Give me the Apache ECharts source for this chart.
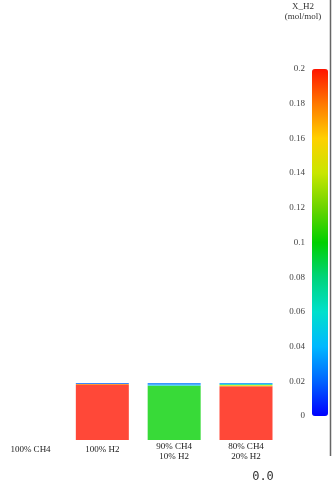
<!DOCTYPE html>
<html>
<head>
<meta charset="utf-8">
<script src="https://cdn.jsdelivr.net/npm/echarts@6/dist/echarts.min.js"></script>
<style>
html, body { margin: 0; padding: 0; background: #fff; }
#chart { width: 334px; height: 486px; }
</style>
</head>
<body>
<div id="chart"></div>
<script>
// cases (x axis)
var categories = [ '100% CH4', '100% H2', '90% CH4\n10% H2', '80% CH4\n20% H2' ];
// height of each layer in % of the square, bottom to top
var coreHeight = [ 0, 96.5, 95, 94.5 ];
var layer1Height = [ 0, 1.8, 2, 1.8 ];
var layer2Height = [ 0, 1.7, 3, 1.8 ];
var layer3Height = [ 0, 0, 0, 1.9 ];
// X_H2 of each layer (mol/mol)
var coreXH2 = [ 0, 1.0, 0.1, 0.2 ];
var layer1XH2 = [ 0, 0.18, 0.05, 0.15 ];
var layer2XH2 = [ 0, 0.02, 0.025, 0.07 ];
var layer3XH2 = [ 0, 0, 0, 0.03 ];
// colour scale
var scaleMin = 0, scaleMax = 0.2, scaleStep = 0.02;
var scaleColors = [ '#0000ff', '#0064ff', '#00b8ff', '#00e0cc', '#00d47a', '#00d000',
		'#6cd400', '#c8e600', '#ffd000', '#ff7800', '#ff1400' ];

var serif = 'Liberation Serif';

var makeLayer = function(heights, values) {
	return heights.map(function(h, i) {
		return [ i, h, Math.min(values[i], scaleMax) ];
	});
};

var layers = [ [ coreHeight, coreXH2 ], [ layer1Height, layer1XH2 ],
		[ layer2Height, layer2XH2 ], [ layer3Height, layer3XH2 ] ];

var series = layers.map(function(l) {
	return {
		type : 'bar',
		stack : 'case',
		barWidth : 53,
		xAxisIndex : 0,
		yAxisIndex : 0,
		encode : { x : 0, y : 1 },
		itemStyle : { opacity : 0.78 },
		silent : true,
		data : makeLayer(l[0], l[1])
	};
});

var axisData = categories.map(function(c) {
	// single line labels sit a bit lower
	if (c.indexOf('\n') < 0) {
		return { value : c, textStyle : { padding : [ 3, 0, 0, 0 ] } };
	}
	return c;
});

var myChart = echarts.init(document.getElementById('chart'));
var option = {
	backgroundColor : '#fff',
	animation : false,
	grid : [ {
		left : 30.5,
		width : 215.5,
		top : 383,
		height : 57
	}, {
		left : 309,
		width : 1,
		top : 69,
		height : 347
	} ],
	xAxis : [ {
		type : 'category',
		gridIndex : 0,
		boundaryGap : false,
		data : axisData,
		axisLine : { show : false },
		axisTick : { show : false },
		axisLabel : {
			margin : 2,
			interval : 0,
			fontFamily : serif,
			fontSize : 9,
			lineHeight : 10,
			color : '#222'
		}
	}, {
		type : 'value',
		gridIndex : 1,
		show : false
	} ],
	yAxis : [ {
		type : 'value',
		gridIndex : 0,
		min : 0,
		max : 100,
		show : false
	}, {
		type : 'value',
		gridIndex : 1,
		min : scaleMin,
		max : scaleMax,
		interval : scaleStep,
		axisLine : { show : false },
		axisTick : { show : false },
		splitLine : { show : false },
		axisLabel : {
			margin : 4,
			fontFamily : serif,
			fontSize : 9,
			color : '#444',
			formatter : function(v) {
				return String(+v.toFixed(2));
			}
		}
	} ],
	visualMap : {
		type : 'continuous',
		min : scaleMin,
		max : scaleMax,
		dimension : 2,
		seriesIndex : [ 0, 1, 2, 3 ],
		calculable : false,
		left : 312,
		top : 69,
		padding : 0,
		itemWidth : 16,
		itemHeight : 347,
		text : null,
		showLabel : false,
		inRange : { color : scaleColors }
	},
	graphic : [ {
		type : 'text',
		x : 303,
		y : 2,
		style : {
			text : 'X_H2\n(mol/mol)',
			fontFamily : serif,
			fontSize : 9,
			lineHeight : 10,
			align : 'center',
			fill : '#333'
		}
	}, {
		type : 'line',
		shape : { x1 : 330.5, y1 : 0, x2 : 330.5, y2 : 456 },
		style : { stroke : '#666', lineWidth : 1.5 }
	}, {
		type : 'text',
		x : 263,
		y : 471,
		style : {
			text : '0.0',
			fontFamily : 'DejaVu Sans Mono',
			fontSize : 12,
			align : 'center',
			fill : '#333'
		}
	} ],
	series : series
};
myChart.setOption(option);
</script>
</body>
</html>
